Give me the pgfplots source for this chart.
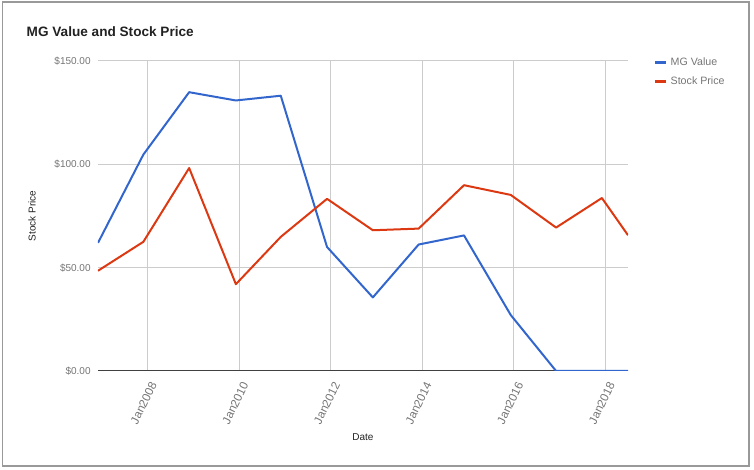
\documentclass[border=0pt]{standalone}
\usepackage{pgfplots}
\pgfplotsset{compat=1.18}
\usepackage{fontspec}
\setmainfont{Liberation Sans}
\definecolor{gblue}{HTML}{3366CC}
\definecolor{gred}{HTML}{DC3912}
\definecolor{gridgray}{HTML}{CCCCCC}
\definecolor{ticktext}{HTML}{757575}
\definecolor{labtext}{HTML}{222222}
\begin{document}
\begin{tikzpicture}
% page and frame (pixel units, 1px = 0.75pt, origin bottom left)
\begin{scope}[x=0.75pt,y=0.75pt]
\path (0,0) rectangle (754,470);
\draw[color=black!40, line width=1.1pt] (2.5,4) rectangle (749,468);
\node[anchor=west, font=\fontsize{10.2}{12}\selectfont\bfseries, text=labtext] at (22,438) {MG Value and Stock Price};
\end{scope}
\begin{axis}[
    at={(73.5pt,74.25pt)}, anchor=south west,
    scale only axis,
    width=397.5pt, height=232.5pt,
    xmin=2006.92, xmax=2018.49,
    ymin=0, ymax=150,
    axis line style={draw=none},
    axis x line*=bottom,
    axis y line*=left,
    xtick={2008,2010,2012,2014,2016,2018},
    xticklabels={Jan2008,Jan2010,Jan2012,Jan2014,Jan2016,Jan2018},
    ytick={0,50,100,150},
    yticklabels={\$0.00,\$50.00,\$100.00,\$150.00},
    major tick length=0pt,
    grid=major,
    major grid style={color=gridgray, line width=0.75pt},
    xticklabel style={rotate=64, anchor=east, text=ticktext, font=\fontsize{8.8}{10}\selectfont, xshift=-2.5pt, yshift=-8pt},
    yticklabel style={text=ticktext, font=\fontsize{7.5}{9}\selectfont, xshift=-2pt},
    xlabel={Date},
    ylabel={Stock Price},
    xlabel style={font=\fontsize{7.5}{9}\selectfont, text=labtext, at={(axis description cs:0.5,-0.213)}, anchor=center},
    ylabel style={font=\fontsize{7.5}{9}\selectfont, text=labtext, at={(axis description cs:-0.1245,0.5)}, anchor=center},
    legend style={at={(rel axis cs:1.04,1.03)}, anchor=north west, draw=none, fill=none,
        font=\fontsize{8}{10}\selectfont, text=ticktext, row sep=3.5pt,
        legend cell align=left},
    legend image code/.code={\draw[line width=2.4pt] (0pt,0pt) -- (8.5pt,0pt);},
    clip=true,
]
\draw[color=black!75, line width=0.9pt] (axis cs:2006.92,0) -- (axis cs:2018.49,0);
\addplot[gblue, line width=1.5pt, line join=round] coordinates {
    (2006.92,62.0) (2007.91,104.7) (2008.91,134.9) (2009.93,130.9)
    (2010.91,133.2) (2011.92,60.0) (2012.92,35.6) (2013.92,61.2)
    (2014.91,65.6) (2015.93,27.1) (2016.92,0) (2017.92,0) (2018.49,0)
};
\addlegendentry{MG Value}
\addplot[gred, line width=1.5pt, line join=round] coordinates {
    (2006.92,48.5) (2007.91,62.5) (2008.91,98.2) (2009.93,42.0)
    (2010.91,64.9) (2011.92,83.3) (2012.92,68.1) (2013.92,68.9)
    (2014.91,89.9) (2015.93,85.2) (2016.92,69.4) (2017.92,83.7)
    (2018.49,65.7)
};
\addlegendentry{Stock Price}
\end{axis}
\end{tikzpicture}
\end{document}
